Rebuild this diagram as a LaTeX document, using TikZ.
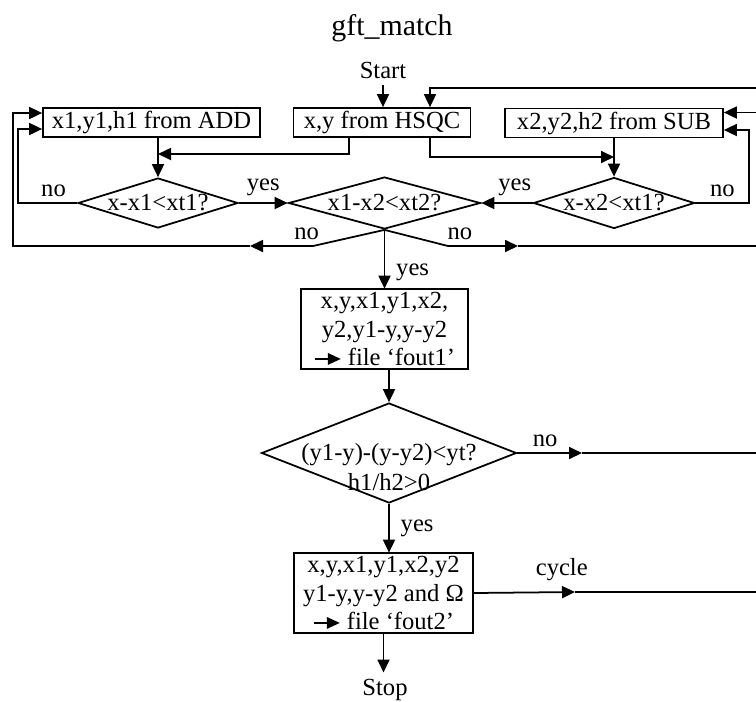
\documentclass[tikz,border=0pt]{standalone}
\usepackage{fontspec}
\setmainfont{Liberation Serif}
\usepackage{tikz}
\usetikzlibrary{arrows.meta, positioning, shapes.geometric}

% small arrow used inside the output boxes
\newcommand{\tofile}{\tikz[baseline=-0.55ex]\draw[-{Triangle[length=2.6mm, width=2.3mm]}, line width=1pt] (0,0) -- (0.52cm,0);}

\begin{document}
\begin{tikzpicture}[
        x=0.02cm, y=-0.02cm,
        font=\fontsize{14}{16}\selectfont,
        line width=1pt,
        box/.style={rectangle, draw, minimum height=0.58cm, inner sep=1pt, align=center},
        dec/.style={diamond, draw, inner sep=0pt},
        arr/.style={-{Triangle[length=2.6mm, width=2.4mm]}},
        lbl/.style={above},
    ]
        \useasboundingbox (0,0) rectangle (756,701);

        % Title and start
        \node (title) at (392,28) {\fontsize{17}{20}\selectfont gft\_match};
        \node (start) at (383,70) {Start};

        % Top row: the three sources
        \node[box, minimum width=4.34cm] (add) at (151.5,122.5) {x1,y1,h1 from ADD};
        \node[box, minimum width=3.54cm] (hsqc) at (382,122.5) {x,y from HSQC};
        \node[box, minimum width=4.36cm] (sub) at (614,123) {x2,y2,h2 from SUB};

        % Second row: tests
        \node[dec, minimum width=3.2cm, minimum height=1cm] (d1) at (158,203) {};
        \node (d1t) at (d1) {x-x1<xt1?};
        \node[dec, minimum width=3.84cm, minimum height=1.04cm] (d2) at (384.5,203) {};
        \node (d2t) at (d2) {x1-x2<xt2?};
        \node[dec, minimum width=3.22cm, minimum height=1.02cm] (d3) at (614,203) {};
        \node (d3t) at (d3) {x-x2<xt1?};

        % Middle column
        \node[box, minimum width=3.34cm, minimum height=1.6cm] (out1) at (384.5,329)
            {x,y,x1,y1,x2,\\y2,y1-y,y-y2\\\tofile\ file ‘fout1’};
        \node[dec, minimum width=5.1cm, minimum height=2cm] (d4) at (389,453) {};
        \node[align=center] (d4t) at (389,467) {(y1-y)-(y-y2)<yt?\\[1pt]h1/h2>0};
        \node[box, minimum width=3.58cm, minimum height=1.6cm] (out2) at (383.5,593)
            {x,y,x1,y1,x2,y2\\y1-y,y-y2 and Ω\\\tofile\ file ‘fout2’};
        \node (stop) at (385,690) {Stop};

        % Free ends at the right border
        \coordinate (rtop) at (756,88);
        \coordinate (rsub) at (756,112.5);
        \coordinate (rno) at (756,246);
        \coordinate (rd4) at (756,453);
        \coordinate (rcyc) at (756,592);

        % Junctions and mid arrows
        \coordinate (j1) at (158,154);
        \coordinate (j2) at (614,157);
        \coordinate (k1) at (313,246);
        \coordinate (m1) at (250,246);
        \coordinate (lo) at (13,246);
        \coordinate (k2) at (448,246);
        \coordinate (m2) at (518,246);
        \coordinate (m3) at (582,453);
        \coordinate (m4) at (575,592);

        % Arrows -- top
        \draw[arr] (start.south) -- (start.south |- hsqc.north);
        \draw[arr] (rtop) -| ([xshift=0.96cm]hsqc.north);
        \draw[arr] (rsub) -- (rsub -| sub.east);
        \draw[arr] ([xshift=-0.66cm]hsqc.south) |- (j1);
        \draw[arr] ([xshift=0.96cm]hsqc.south) |- (j2);
        \draw[arr] (add.south -| d1.north) -- (d1.north);
        \draw[arr] (sub.south) -- (d3.north);

        % Arrows -- tests
        \draw[arr] (d1.east) -- node[lbl] {yes} (d2.west);
        \draw[arr] (d3.west) -- node[lbl, pos=0.35] {yes} (d2.east);
        \draw[arr] (d1.west) -- node[lbl, pos=0.4] {no} ++(-1.18cm,0) |- ([yshift=-0.13cm]add.west);
        \draw[arr] (d3.east) -- node[lbl] {no} ++(1.08cm,0) |- ([yshift=-0.14cm]sub.east);

        % Arrows -- x1-x2 test fails
        \draw[arr] (d2.south) -- (k1) -- node[lbl, pos=0.1] {no} (m1);
        \draw[arr] (m1) -- (lo) |- ([yshift=0.19cm]add.west);
        \draw[arr] (d2.south) -- (k2) -- node[lbl, pos=0.17] {no} (m2);
        \draw (m2) -- (rno);

        % Arrows -- middle column
        \draw[arr] (d2.south) -- node[right, xshift=0.1cm, pos=0.72] {yes} (d2.south |- out1.north);
        \draw[arr] (out1.south -| d4.north) -- (d4.north);
        \draw[arr] (d4.east) -- node[lbl, pos=0.43] {no} (m3);
        \draw (m3) -- (rd4);
        \draw[arr] (d4.south) -- node[right, xshift=0.1cm] {yes} (d4.south |- out2.north);
        \draw[arr] (out2.east) -- node[lbl, pos=0.87, yshift=0.1cm] {cycle} (m4);
        \draw (m4) -- (rcyc);
        \draw[arr] (out2.south) -- (out2.south |- stop.north);
    \end{tikzpicture}
\end{document}
